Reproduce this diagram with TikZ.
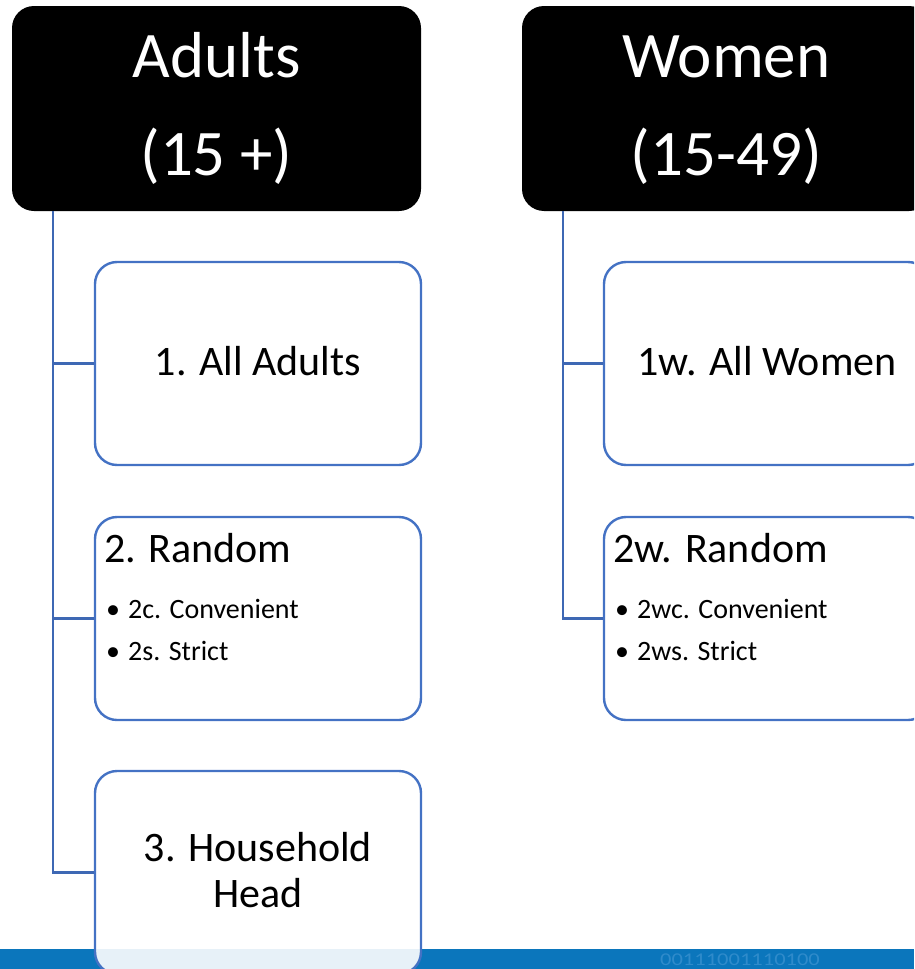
\documentclass[tikz,border=0pt]{standalone}
\usepackage{fontspec}
\setmainfont{Carlito}
\definecolor{boxblue}{HTML}{4472C4}
\definecolor{connblue}{HTML}{3E68B4}
\definecolor{bandblue}{HTML}{0B76BC}
\definecolor{faintblue}{HTML}{2F8BCB}
\begin{document}
\begin{tikzpicture}[x=1pt,y=-1pt,
  header/.style={draw=none,fill=black,rounded corners=22pt,minimum width=409pt,minimum height=205pt,inner sep=0pt},
  item/.style={draw=boxblue,line width=2.4pt,fill=white,rounded corners=22pt,minimum width=326pt,minimum height=203pt,inner sep=0pt},
  conn/.style={draw=connblue,line width=2.2pt},
  headtext/.style={text=white,font=\fontsize{65}{78}\selectfont,anchor=base,inner sep=0pt},
  itemtext/.style={font=\fontsize{42}{46}\selectfont,inner sep=0pt},
  bullettext/.style={font=\fontsize{28}{34}\selectfont,anchor=base west,inner sep=0pt}]
\useasboundingbox (0,0) rectangle (914,969);
\clip (0,0) rectangle (914,969);
% bottom band
\fill[bandblue] (0,949) rectangle (914,969);
\node[text=faintblue,font=\fontsize{18}{18}\selectfont,anchor=base,inner sep=0pt,xscale=1.25] (bits) at (740,965) {00111001110100};
% header boxes
\node[header] (adults) at (216.5,108.5) {};
\node[header] (women) at (726.5,108.5) {};
\node[headtext] (adultsl1) at (216.5,77) {Adults};
\node[headtext] (adultsl2) at (216.5,175) {(15 +)};
\node[headtext] (womenl1) at (726.5,77) {Women};
\node[headtext] (womenl2) at (726.5,175) {(15-49)};
% adults items
\node[item] (a1) at (258,363.5) {};
\node[item] (a2) at (258,618.5) {};
\node[item,fill opacity=0.9,text opacity=1] (a3) at (258,872.5) {};
\node[itemtext,anchor=base] (a1t) at (258,375) {1. All Adults};
\node[itemtext,anchor=base west] (a2t) at (104,562) {2. Random};
\node[bullettext] (a2b1) at (106,618) {•\hspace{8pt}2c. Convenient};
\node[bullettext] (a2b2) at (106,660) {•\hspace{8pt}2s. Strict};
\node[itemtext,align=center,anchor=base] (a3t) at (258,907) {3. Household\\Head};
% women items
\node[item] (w1) at (767,363.5) {};
\node[item] (w2) at (767,618.5) {};
\node[itemtext,anchor=base] (w1t) at (767,375) {1w. All Women};
\node[itemtext,anchor=base west] (w2t) at (613,562) {2w. Random};
\node[bullettext] (w2b1) at (615,618) {•\hspace{8pt}2wc. Convenient};
\node[bullettext] (w2b2) at (615,660) {•\hspace{8pt}2ws. Strict};
% connectors
\draw[conn] ([xshift=41pt]adults.south west) |- (a3.west);
\draw[conn] ([xshift=41pt]adults.south west) |- (a2.west);
\draw[conn] ([xshift=41pt]adults.south west) |- (a1.west);
\draw[conn] ([xshift=41pt]women.south west) |- (w2.west);
\draw[conn] ([xshift=41pt]women.south west) |- (w1.west);
\end{tikzpicture}
\end{document}
